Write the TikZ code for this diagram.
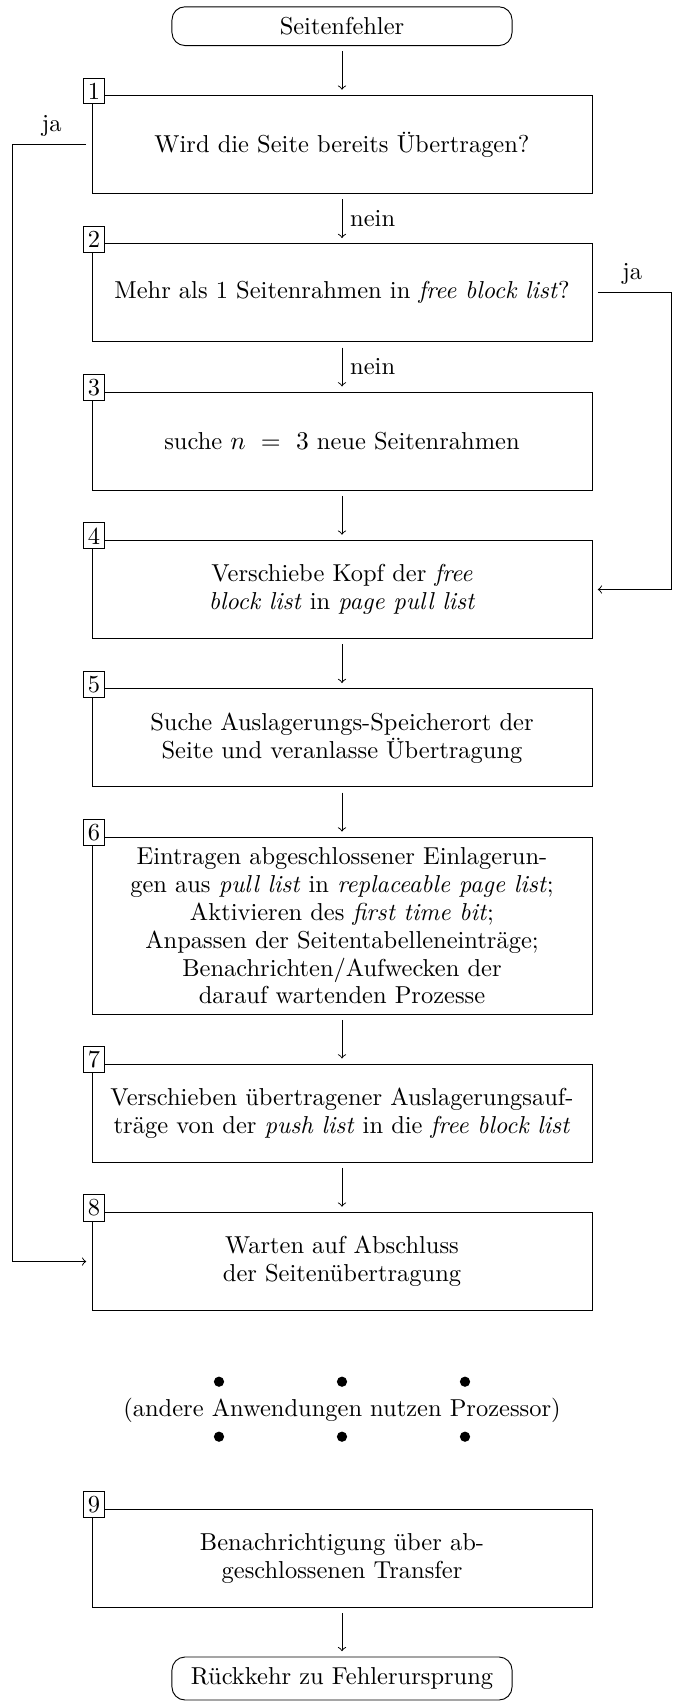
\documentclass[tikz,border=0pt]{standalone}
\usepackage{fontspec}
\begin{document}
\begin{tikzpicture}[x=0.429pt,y=-0.429pt,
  every node/.style={font=\fontsize{10.5pt}{12pt}\selectfont},
  stepbox/.style={draw,minimum width=214.5pt,minimum height=42pt,align=center,inner sep=2pt},
  termbox/.style={draw,rounded corners=5.6pt,minimum width=145.9pt,inner ysep=4.5pt},
  numlabel/.style={draw,fill=white,inner sep=2pt},
  flow/.style={->,shorten <=2.3pt,shorten >=2.3pt}]
\useasboundingbox (0,0) rectangle (677,1701);

\node[termbox] (start) at (342,26.2) {Seitenfehler};

\node[stepbox] (b1) at (342,144.5) {Wird die Seite bereits Übertragen?};
\node[stepbox] (b2) at (342,292.8) {Mehr als 1 Seitenrahmen in \emph{free block list}?};
\node[stepbox] (b3) at (342,441.2) {suche $n \ = \ 3$ neue Seitenrahmen};
\node[stepbox] (b4) at (342,589.5) {Verschiebe Kopf der \emph{free}\\\emph{block list} in \emph{page pull list}};
\node[stepbox] (b5) at (342,737.8) {Suche Auslagerungs-Speicherort der\\Seite und veranlasse Übertragung};
\node[stepbox,minimum height=75.8pt] (b6) at (342,925.7) {Eintragen abgeschlossener Einlagerun-\\gen aus \emph{pull list} in \emph{replaceable page list};\\Aktivieren des \emph{first time bit};\\Anpassen der Seitentabelleneinträge;\\Benachrichten/Aufwecken der\\darauf wartenden Prozesse};
\node[stepbox] (b7) at (342,1113.2) {Verschieben übertragener Auslagerungsauf-\\träge von der \emph{push list} in die \emph{free block list}};
\node[stepbox] (b8) at (342,1261.5) {Warten auf Abschluss\\der Seitenübertragung};
\node[stepbox] (b9) at (342,1558.3) {Benachrichtigung über ab-\\geschlossenen Transfer};

\node[termbox] (end) at (342,1678.5) {Rückkehr zu Fehlerursprung};

\foreach \b/\n in {b1/1,b2/2,b3/3,b4/4,b5/5,b6/6,b7/7,b8/8,b9/9}
  \node[numlabel] (l\n) at ([xshift=1.1pt,yshift=1.8pt]\b.north west) {\n};

\node (other) at (342,1410) {(andere Anwendungen nutzen Prozessor)};
\foreach \x in {219,342,465}{
  \fill (\x,1381.7) circle (2.2pt);
  \fill (\x,1436.7) circle (2.2pt);
}

\draw[flow] (start) -- (b1);
\draw[flow] (b1) -- node[right]{nein} (b2);
\draw[flow] (b2) -- node[right]{nein} (b3);
\draw[flow] (b3) -- (b4);
\draw[flow] (b4) -- (b5);
\draw[flow] (b5) -- (b6);
\draw[flow] (b6) -- (b7);
\draw[flow] (b7) -- (b8);
\draw[flow] (b9) -- (end);

\draw[flow] (b1.west) -- node[above]{ja} ++(-79.4,0) |- (b8.west);
\draw[flow] (b2.east) -- node[above]{ja} ++(79.3,0) |- (b4.east);
\end{tikzpicture}
\end{document}
